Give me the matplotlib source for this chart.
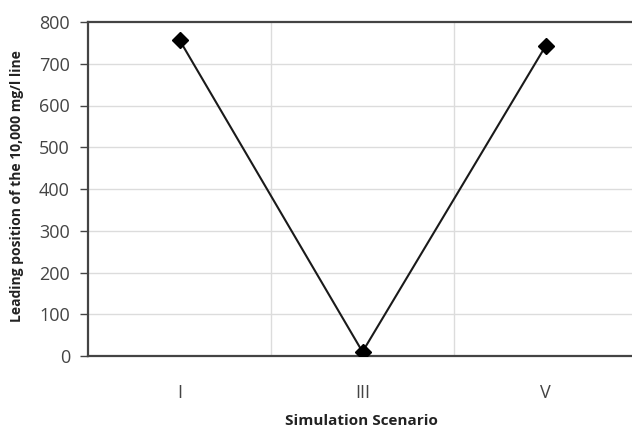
import matplotlib
matplotlib.use("Agg")
import matplotlib.pyplot as plt

scenarios = ["I", "III", "V"]
leading_pos = [757, 10, 742]
y_ticks = [0, 100, 200, 300, 400, 500, 600, 700, 800]

plt.rcParams["font.family"] = ["Open Sans", "DejaVu Sans"]

fig = plt.figure(figsize=(6.32, 4.43), dpi=100)
W, H = 632, 443
# axes runs past the right edge, as in the source image
ax = fig.add_axes([88 / W, (H - 356) / H, 549 / W, 334 / H])

x = list(range(len(scenarios)))
ax.plot(x, leading_pos, color="#1a1a1a", lw=1.5, marker="D", ms=8,
        markerfacecolor="black", markeredgecolor="black", zorder=3)

ax.set_xlim(-0.5, len(scenarios) - 0.5)
ax.set_ylim(0, 800)
ax.set_yticks(y_ticks)
ax.set_xticks(x)
ax.set_xticklabels(scenarios)

# grid: horizontal at every tick, vertical at category boundaries
for v in y_ticks[1:-1]:
    ax.axhline(v, color="#dcdcdc", lw=1, zorder=0)
for b in [0.5, 1.5]:
    ax.axvline(b, color="#dcdcdc", lw=1, zorder=0)

for side in ["left", "bottom", "top"]:
    ax.spines[side].set_color("#444444")
    ax.spines[side].set_linewidth(1.6)
ax.spines["right"].set_visible(False)

ax.tick_params(axis="y", length=6, width=1, color="#444444", labelsize=13,
               labelcolor="#444444", pad=7)
ax.tick_params(axis="x", length=0, labelsize=13, labelcolor="#444444", pad=20)

ax.set_ylabel("Leading position of the 10,000 mg/l line", fontsize=10,
              fontweight="bold", color="#222222")
ax.yaxis.set_label_coords(-(88 - 17) / 549, (356 - 186) / 334)
ax.yaxis.label.set_va("center")
ax.set_xlabel("Simulation Scenario", fontsize=11, fontweight="bold",
              color="#222222")
ax.xaxis.set_label_coords((361 - 88) / 549, -(421 - 356) / 334)
ax.xaxis.label.set_va("center")

fig.savefig("out.png", dpi=100)
